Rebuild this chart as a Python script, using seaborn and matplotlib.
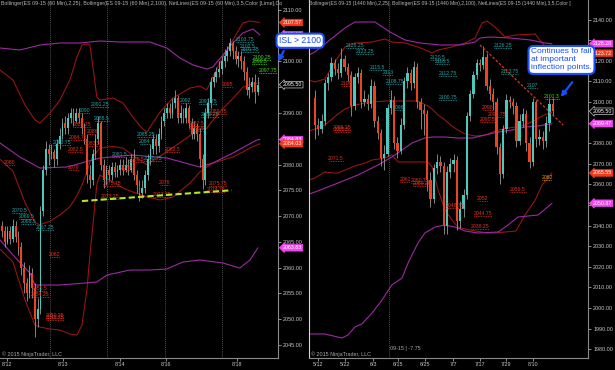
import numpy as np
import matplotlib
matplotlib.use("Agg")
import matplotlib.pyplot as plt
from matplotlib.patches import FancyArrowPatch
import seaborn as sns

sns.set_theme(style="dark", rc={"axes.facecolor": "black", "figure.facecolor": "black",
                                "axes.edgecolor": "#8a8a8a", "text.color": "#c8c8c8",
                                "xtick.color": "#c8c8c8", "ytick.color": "#c8c8c8"})
plt.rcParams["font.family"] = ["Liberation Sans", "DejaVu Sans"]

UP, DN, WICK = "#4cc9bf", "#ec4320", "#9a9a9a"
BAND_R, BAND_M = "#a01414", "#9c2aa2"
LBL = {"t": "#1fa7a7", "r": "#e8301c", "g": "#3fe010", "o": "#e6a010"}
TAG = {"r": ("#f03a1e", "#f03a1e", "white"), "m": ("#ee48ee", "#ee48ee", "white"),
       "c": ("black", "#c8c8c8", "white")}
BLUE = "#1a4dff"

# ---------------- 60 min chart (left) ----------------
l_open0 = 2068
l_close = [2067, 2065, 2067, 2065.5, 2068, 2066, 2064, 2060, 2057, 2055,
           2059, 2056, 2050, 2052, 2071, 2079, 2083, 2082, 2082.5, 2081,
           2084, 2085.5, 2088, 2087, 2089, 2090, 2088.5, 2090, 2089, 2087,
           2085, 2078, 2077, 2082, 2085, 2088, 2080, 2077, 2079, 2078,
           2079.5, 2078.5, 2079, 2080, 2079, 2080, 2079, 2081, 2078, 2076,
           2074.5, 2075.5, 2078, 2081, 2083, 2085, 2083.5, 2086, 2088.5, 2090,
           2091, 2090, 2092, 2093, 2089, 2090, 2089, 2091, 2088, 2086,
           2087, 2086, 2081, 2077, 2090, 2092, 2096, 2097, 2098, 2098.5,
           2100, 2101, 2102, 2103.5, 2102, 2100.5, 2101, 2100, 2098, 2094.5,
           2095, 2096, 2094, 2095.5]
l_high = [2069, 2068, 2068, 2068, 2069.5, 2069, 2067, 2065, 2061, 2058,
          2060.5, 2060, 2057, 2054, 2072, 2080, 2084.5, 2084, 2084, 2083,
          2085, 2087, 2089, 2089.5, 2090, 2091, 2091, 2091, 2091, 2090,
          2088, 2086, 2080, 2083, 2086, 2089.5, 2088.5, 2081, 2080, 2080,
          2080.5, 2080.5, 2080, 2081, 2081, 2081.5, 2081, 2082, 2083, 2079,
          2077, 2077, 2079, 2082, 2084, 2086, 2086, 2087, 2089.5, 2091,
          2092, 2092, 2093, 2094.5, 2093.5, 2091.5, 2091, 2092, 2091.5, 2089,
          2088.5, 2088, 2087, 2082, 2091, 2093, 2097, 2098, 2099, 2100,
          2101, 2102.5, 2103, 2104.5, 2104, 2103, 2102, 2102, 2101, 2099,
          2097, 2097, 2097.5, 2097]
l_low = [2066, 2064, 2064.5, 2064.5, 2065, 2065, 2062.5, 2058.5, 2055, 2053.5,
         2054, 2054, 2046.5, 2048.5, 2051, 2070, 2078, 2080, 2081, 2079.5,
         2080, 2083, 2085, 2086, 2086, 2088, 2087.5, 2088, 2088, 2086,
         2084, 2076.5, 2075.5, 2076, 2081, 2084, 2079, 2075.5, 2076, 2077,
         2077, 2077.5, 2077.5, 2078, 2078, 2078.5, 2078, 2078.5, 2077, 2074.5,
         2073, 2073.5, 2074.5, 2077, 2080, 2082, 2082, 2082.5, 2085, 2087.5,
         2089, 2089, 2089, 2091, 2088, 2088, 2088, 2088, 2087, 2085,
         2085, 2084.5, 2079.5, 2075.25, 2076, 2089, 2091, 2095, 2096, 2097,
         2097.5, 2099, 2100, 2101, 2100.5, 2099.5, 2099, 2098.5, 2096.5, 2093.5,
         2093, 2094, 2092, 2093.5]

# Bollinger (2,25) keypoints: bar index, upper / middle / lower
l_b25_x = [-0.7, 4, 8.4, 12, 13.8, 17.5, 21.1, 24.7, 27.3, 29.1, 30.9, 32, 33.1, 34.5, 35.6,
           40.4, 44, 47.6, 50.9, 52.7, 57.5, 62.2, 68.4, 72, 74.5, 76.7, 80.4, 84, 87.6, 90.2, 93.8]
l_b25_up = [2098.35, 2096.41, 2091.55, 2088.64, 2088.06, 2090.0, 2092.52, 2096.41, 2100.87, 2103.2,
            2103.4, 2103.2, 2098.93, 2093.11, 2092.52, 2092.91, 2091.94, 2089.22, 2087.09, 2086.31,
            2090.19, 2092.91, 2094.85, 2095.24, 2094.47, 2096.99, 2100.87, 2104.17, 2107.48, 2107.86, 2107.57]
l_b25_mid = [2081, 2078.7, 2072.6, 2068.7, 2068.3, 2069, 2070.2, 2071.8, 2074, 2076,
             2078.5, 2080.5, 2081.5, 2082.5, 2083.2, 2083.5, 2083.2, 2081.8, 2080.6, 2080,
             2081.6, 2083.3, 2085.6, 2086.9, 2087, 2088.6, 2090.9, 2092.8, 2095, 2095.5, 2095.9]
l_b25_lo = [2063.59, 2061.07, 2053.69, 2048.83, 2048.45, 2048.06, 2047.86, 2047.09, 2046.89, 2048.83,
            2055.63, 2062.43, 2068.25, 2076.02, 2077.96, 2076.6, 2075.44, 2074.66, 2074.08, 2073.69,
            2073.11, 2073.69, 2076.41, 2078.54, 2079.51, 2080.29, 2080.87, 2081.46, 2082.43, 2083.2, 2084.03]
# Bollinger (2,100) keypoints
l_u100_x = [-0.7, 6.5, 13.8, 21.1, 28.4, 35.6, 42.9, 53.8, 60, 64.7, 69.5, 74.5, 76.7, 80.4, 84, 87.6, 91.3, 93.8]
l_u100 = [2102.62, 2102.23, 2103.2, 2103.59, 2103.59, 2103.98, 2103.79, 2103.79, 2102.62, 2100.68,
          2099.32, 2098.54, 2098.93, 2101.26, 2103.59, 2105.53, 2106.31, 2105.17]
l_m100_x = [-0.7, 6.5, 13.8, 23.6, 35.6, 47.6, 60, 72, 76.7, 84, 92.7, 93.8]
l_m100 = [2084.17, 2081.46, 2079.32, 2079.51, 2081.26, 2081.84, 2081.26, 2079.51, 2080.29, 2082.23,
          2084.76, 2084.83]
l_l100_x = [-0.7, 4.7, 10.2, 12, 21.1, 34.5, 38.2, 46.5, 53.8, 60, 65.8, 72, 80.4, 86.5, 90.2, 93.1]
l_l100 = [2065.34, 2062.04, 2058.93, 2056.6, 2056.6, 2057.18, 2058.54, 2059.51, 2059.51, 2059.71,
          2061.07, 2061.46, 2060.87, 2059.9, 2061.46, 2063.83]

# NetLines labels
l_lab_x = [30.2, 35.6, 36.4, 21.8, 6.5, 9.1, 9.8, 15.6, 52.4, 52.0, 66.9, 74.9, 75.6, 42.9, 54.9,
           88.4, 89.5, 90.2, 94.5, 93.8, 96.7,
           2.9, 29.1, 33.1, 27.6, 33.1, 26.9, 26.2, 40.0, 39.3, 45.5, 49.1, 59.3, 58.2, 62.2,
           70.9, 70.9, 78.5, 82.2, 78.5, 77.8, 19.3, 13.8, 13.8, 19.3, 19.3]
l_lab_v = [2090, 2091.25, 2088.5, 2083.75, 2070.5, 2069.5, 2068.5, 2067.25, 2085.25, 2084, 2092,
           2091.75, 2089.25, 2081.5, 2080.75, 2103.75, 2102.5, 2101.75, 2100.25, 2099.5, 2097.75,
           2080, 2087.25, 2086, 2084.75, 2083.5, 2082.5, 2079, 2075.75, 2073.25, 2079, 2080.5,
           2076, 2073.75, 2082.5, 2087.5, 2086.5, 2089.75, 2095, 2075.75, 2074.75, 2062, 2055.5,
           2054.25, 2050.25, 2049.75]
l_lab_c = ["t"] * 18 + ["g"] * 3 + ["r"] * 25

l_tag_v = [2107.57, 2105.17, 2095.50, 2084.83, 2084.03, 2063.83]
l_tag_k = ["r", "m", "c", "m", "r", "m"]
l_xtick_pos = [1.8, 22.2, 42.9, 59.6, 85.5]
l_xtick_lab = ["8/12", "8/13", "8/14", "8/16", "8/18"]
l_sessions = [17.5, 38.2, 59.3, 80.0]
l_yticks = [2045, 2050, 2055, 2060, 2065, 2070, 2075, 2080, 2085, 2090, 2095, 2100, 2105, 2110]
l_support_x = [29.1, 83.6]
l_support_y = [2072.9, 2075.0]

# ---------------- daily chart (right) ----------------
r_open0 = 2102
r_close = [2089, 2087, 2091, 2109, 2112, 2119, 2116, 2114, 2121, 2117,
           2113, 2098, 2112, 2114, 2100, 2101.5, 2099, 2108, 2091, 2085,
           2073, 2075, 2097, 2101, 2080, 2076, 2089, 2110, 2114, 2109,
           2117, 2100, 2096, 2094, 2062, 2053, 2068, 2071, 2069, 2040,
           2066, 2070, 2072, 2042, 2048, 2055, 2093, 2104, 2113, 2119,
           2118, 2122, 2108, 2104, 2100, 2078, 2065, 2087, 2101, 2100,
           2098, 2081, 2091, 2094, 2080, 2071, 2100, 2082, 2083, 2081,
           2090, 2099, 2095.5]
r_high = [2106, 2092, 2094, 2111, 2114, 2122, 2121, 2119, 2126, 2123,
          2119, 2115, 2114, 2117, 2116, 2106, 2104, 2111, 2110, 2093,
          2087, 2079, 2099, 2106, 2103, 2083, 2092, 2112, 2117, 2116,
          2120, 2119, 2102, 2099, 2096, 2066, 2070, 2075, 2074, 2071,
          2069, 2073, 2075, 2074, 2052, 2058, 2095, 2106, 2115, 2121,
          2121, 2127, 2124, 2111, 2107, 2102, 2080, 2089, 2104, 2103,
          2102, 2100, 2094, 2097, 2096, 2083, 2102, 2101, 2087, 2086,
          2093, 2102, 2102]
r_low = [2082, 2084, 2085, 2089, 2106, 2110, 2113, 2111, 2112, 2115,
         2110, 2093, 2096, 2109, 2097, 2098, 2096, 2097, 2088, 2082,
         2069, 2067, 2074, 2094, 2077, 2073, 2075, 2087, 2107, 2106,
         2107, 2097, 2087, 2084, 2057, 2049, 2051, 2065, 2066, 2036,
         2036, 2063, 2066, 2038, 2039, 2044, 2053, 2091, 2102, 2111,
         2115, 2116, 2106, 2101, 2096, 2075, 2060, 2063, 2085, 2097,
         2094, 2078, 2079, 2088, 2076, 2068, 2069, 2078, 2079, 2077,
         2078, 2086, 2093]

r_b25_x = [-1.8, 0, 3, 5.5, 7, 9.1, 12.1, 15.2, 17.3, 21.2, 23.3, 25.2, 27.3, 31.2, 34.2, 35.5,
           37.3, 39.4, 41.5, 43.3, 45.5, 48.5, 50.6, 52.1, 54.5, 57.6, 60.9, 63.6, 66.7, 68.8, 71.8]
r_b25_up = [2110.68, 2109.71, 2111.17, 2117.96, 2121.84, 2126.7, 2128.64, 2128.88, 2129.13, 2130.58,
            2129.13, 2128.88, 2128.64, 2126.7, 2124.76, 2123.79, 2125.24, 2125.97, 2126.7, 2127.67,
            2128.64, 2131.07, 2138.35, 2139.32, 2136.41, 2131.55, 2132.52, 2132.77, 2133.01, 2128.64, 2123.72]
r_b25_mid = [2085.92, 2086.89, 2088.83, 2092.23, 2094.17, 2096.6, 2098.54, 2099.51, 2100.0, 2100.49,
             2100.49, 2100.49, 2100.49, 2100.49, 2098.06, 2096.6, 2093.69, 2091.26, 2088.35, 2086.41,
             2084.47, 2083.5, 2083.74, 2084.22, 2085.92, 2087.14, 2087.86, 2088.83, 2091.26, 2093.2, 2095.15]
r_b25_lo = [2062.14, 2063.11, 2066.02, 2065.53, 2065.53, 2066.99, 2068.93, 2070.39, 2071.84, 2072.82,
            2074.27, 2070.87, 2070.87, 2070.87, 2070.87, 2068.45, 2057.28, 2047.57, 2042.72, 2039.32,
            2038.35, 2037.38, 2036.89, 2036.41, 2036.41, 2036.89, 2037.38, 2045.15, 2052.43, 2059.71, 2065.55]
r_u100_x = [-1.8, 0, 4.5, 9.1, 12.1, 18.2, 22.7, 27.3, 31.8, 37.9, 43.9, 48.5, 50, 53, 59.1, 65.2, 69.7, 71.8]
r_u100 = [2122.82, 2124.27, 2130.1, 2135.92, 2138.83, 2138.83, 2133.98, 2130.1, 2128.64, 2127.67,
          2127.67, 2129.13, 2131.07, 2131.55, 2131.07, 2130.1, 2128.64, 2128.28]
r_m100_x = [-1.8, 0, 7, 13, 19.1, 23.3, 26.4, 29.4, 33.3, 35.5, 39.4, 43.3, 47.6, 51.5, 55.5, 59.7, 63.6, 67.6, 71.8]
r_m100 = [2055.34, 2056.31, 2060.68, 2064.56, 2069.42, 2073.3, 2076.7, 2080.1, 2082.52, 2083.01,
          2083.01, 2082.52, 2082.52, 2083.98, 2085.44, 2086.41, 2087.86, 2088.35, 2089.47]
r_l100_x = [-1.8, 3, 8.2, 10, 12.1, 14.2, 17.3, 20.3, 23.3, 26.4, 28.2, 31.2, 33.3, 36.4, 39.4, 42.4,
            45.5, 49.4, 55.5, 58.5, 61.5, 67.6, 71.8]
r_l100 = [1987.38, 1987.38, 1985.44, 1986.89, 1990.78, 1992.23, 1997.57, 2003.88, 2011.17, 2014.56,
          2021.84, 2031.55, 2036.41, 2039.32, 2040.29, 2039.32, 2037.38, 2036.41, 2036.89, 2040.29,
          2044.17, 2045.15, 2050.87]

r_lab_x = [12.1, 15.2, 18.8, 22.1, 24.2, 25.2, 37.3, 38.5, 40.3, 40.3, 57.0, 59.0, 66.0,
           9.7, 8.2, 8.2, 6.4, 27.3, 31.8, 32.4, 55.2, 52.4, 52.4, 50.9, 61.5, 50.9, 50.0, 42.4,
           70.3, 71.8]
r_lab_v = [2126.25, 2123.25, 2115.5, 2113, 2108.75, 2096, 2120.5, 2118.5, 2112.75, 2100.75, 2126.25,
           2113.75, 2107, 2108, 2086.25, 2085.5, 2071.5, 2061, 2060.75, 2059.25, 2092.75, 2096,
           2090.5, 2052, 2056.5, 2044.75, 2038.25, 2048.75, 2062, 2101.3]
r_lab_c = ["t"] * 13 + ["r"] * 15 + ["o", "g"]

r_tag_v = [2128.28, 2123.72, 2095.50, 2089.47, 2065.55, 2050.87]
r_tag_k = ["m", "r", "c", "m", "r", "m"]
r_xtick_pos = [0.9, 9.1, 17.6, 25.2, 33.3, 41.8, 50, 57.9, 66.1]
r_xtick_lab = ["5/12", "5/22", "6/3", "6/15", "6/25", "7/7", "7/17", "7/29", "8/10"]
r_sessions = [22.4]
r_yticks = [1980, 1990, 2000, 2010, 2020, 2030, 2040, 2050, 2060, 2070, 2080, 2090, 2100,
            2110, 2120, 2130, 2140]
r_trend_x = [50, 75.2]
r_trend_y = [2127.7, 2088.8]


def candles(ax, first_open, close, high, low, width):
    close = np.asarray(close, float)
    opn = np.r_[first_open, close[:-1]]
    x = np.arange(len(close))
    ax.vlines(x, low, high, color=WICK, lw=0.6, zorder=3)
    body = close - opn
    body = np.where(np.abs(body) < 0.3, 0.3, body)
    ax.bar(x, body, bottom=opn, width=width, color=np.where(close >= opn, UP, DN),
           linewidth=0, zorder=4)


def band(ax, x, y, color, lw):
    sns.lineplot(x=x, y=y, ax=ax, color=color, lw=lw, zorder=2)


def netlabels(ax, xs, vs, cs, px_per_bar):
    for x, v, c in zip(xs, vs, cs):
        s = "%g" % v
        half = len(s) * 2.5 / px_per_bar / 2
        ax.plot([x - half, x + half], [v, v], ls=(0, (1, 1)), lw=0.6, color=LBL[c], zorder=5)
        ax.text(x, v, s, fontsize=3.7, color=LBL[c], ha="center", va="bottom", zorder=6)


def tags(ax, vals, kinds):
    for v, k in zip(vals, kinds):
        fc, ec, tc = TAG[k]
        ax.annotate(f"{v:.2f}", xy=(1, v), xycoords=("axes fraction", "data"),
                    xytext=(3.5, 0), textcoords="offset points", ha="left", va="center",
                    fontsize=3.8, color=tc, annotation_clip=False, zorder=10,
                    bbox=dict(boxstyle="larrow,pad=0.15", fc=fc, ec=ec, lw=0.5))


def style(ax, xlim, ylim, yticks, xpos, xlab, sessions, tag_vals, px_per_pt):
    ax.set_xlim(*xlim)
    ax.set_ylim(*ylim)
    ax.yaxis.tick_right()
    ax.set_yticks(yticks)
    # tick labels sitting under a price tag are hidden, as on the platform
    ax.set_yticklabels(["" if min(abs(t - v) for v in tag_vals) * px_per_pt < 4.5 else f"{t:.2f}"
                        for t in yticks])
    ax.set_xticks(xpos)
    ax.set_xticklabels(xlab)
    ax.tick_params(axis="y", direction="out", length=2.5, width=0.5, pad=1.2, labelsize=3.9,
                   right=True, left=False)
    ax.tick_params(axis="x", direction="out", length=2, width=0.5, pad=1, labelsize=3.9, bottom=True)
    ax.set_xlabel("")
    ax.set_ylabel("")
    for s in sessions:
        ax.axvline(s, color="#6c6c6c", lw=0.6, ls=(0, (1, 1.5)), zorder=1)
    ax.spines["top"].set_visible(False)
    for side in ("right", "bottom", "left"):
        ax.spines[side].set_color("#8a8a8a")
        ax.spines[side].set_linewidth(0.8)
    ax.text(0.006, 0.004, "\u00a9 2015 NinjaTrader, LLC", transform=ax.transAxes,
            fontsize=3.9, color="#a8a8a8", va="bottom")


fig = plt.figure(figsize=(6.15, 3.7), dpi=100)
axL = fig.add_axes([0.0, 0.0324, 0.452, 0.9676])
axR = fig.add_axes([0.5024, 0.0324, 0.4537, 0.9676])

# left panel
style(axL, (-0.7, 100.4), (2042.43, 2111.94), l_yticks, l_xtick_pos, l_xtick_lab, l_sessions,
      l_tag_v, 5.15)
axL.spines["left"].set_visible(False)
for y in (l_b25_up, l_b25_mid, l_b25_lo):
    band(axL, l_b25_x, y, BAND_R, 0.75)
band(axL, l_u100_x, l_u100, BAND_M, 0.8)
band(axL, l_m100_x, l_m100, BAND_M, 0.8)
band(axL, l_l100_x, l_l100, BAND_M, 0.8)
candles(axL, l_open0, l_close, l_high, l_low, 0.65)
axL.plot(l_support_x, l_support_y, color="#b8e61e", lw=1.5, ls=(0, (3, 1.5)), zorder=7)
netlabels(axL, l_lab_x, l_lab_v, l_lab_c, 2.75)
tags(axL, l_tag_v, l_tag_k)

# right panel
style(axR, (-1.8, 82.7), (1975.73, 2149.51), r_yticks, r_xtick_pos, r_xtick_lab, r_sessions,
      r_tag_v, 2.06)
axR.spines["left"].set_color("#d8d8d8")
for y in (r_b25_up, r_b25_mid, r_b25_lo):
    band(axR, r_b25_x, y, BAND_R, 0.75)
band(axR, r_u100_x, r_u100, BAND_M, 0.8)
band(axR, r_m100_x, r_m100, BAND_M, 0.8)
band(axR, r_l100_x, r_l100, BAND_M, 0.8)
candles(axR, r_open0, r_close, r_high, r_low, 0.7)
axR.plot(r_trend_x, r_trend_y, color="#e83018", lw=0.9, ls=(0, (2, 1.5)), zorder=7)
netlabels(axR, r_lab_x, r_lab_v, r_lab_c, 3.3)
tags(axR, r_tag_v, r_tag_k)
axR.text(0.29, 0.022, "09-15 | -7.75", transform=axR.transAxes, fontsize=3.9, color="#a8a8a8")

# indicator headers
fig.text(0.001, 0.998, "Bollinger(ES 09-15 (60 Min),2,25), Bollinger(ES 09-15 (60 Min),2,100), "
         "NetLines(ES 09-15 (60 Min),3,5,Color [Lime],Co", fontsize=3.8, color="#b8b8b8", va="top")
fig.text(0.503, 0.998, "Bollinger(ES 09-15 (1440 Min),2,25), Bollinger(ES 09-15 (1440 Min),2,100), "
         "NetLines(ES 09-15 (1440 Min),3,5,Color [", fontsize=3.6, color="#b8b8b8", va="top")

# callouts
fig.text(0.488, 0.890, "ISL > 2100", fontsize=6.3, color=BLUE, ha="center", va="center", zorder=20,
         bbox=dict(boxstyle="round,pad=0.3,rounding_size=0.5", fc="white", ec=BLUE, lw=1.5))
fig.text(0.913, 0.838, "Continues to fail\nat important\ninflection points.", fontsize=6.0,
         color=BLUE, ha="center", va="center", linespacing=1.2, multialignment="left", zorder=20,
         bbox=dict(boxstyle="round,pad=0.3,rounding_size=0.6", fc="white", ec=BLUE, lw=1.5))
for a, b in (((0.4634, 0.869), (0.4504, 0.827)), ((0.9333, 0.784), (0.909, 0.732))):
    fig.add_artist(FancyArrowPatch(a, b, transform=fig.transFigure, arrowstyle="-|>",
                                   mutation_scale=7, color=BLUE, lw=1.6, zorder=21))

fig.savefig("out.png", dpi=100, facecolor="black")
